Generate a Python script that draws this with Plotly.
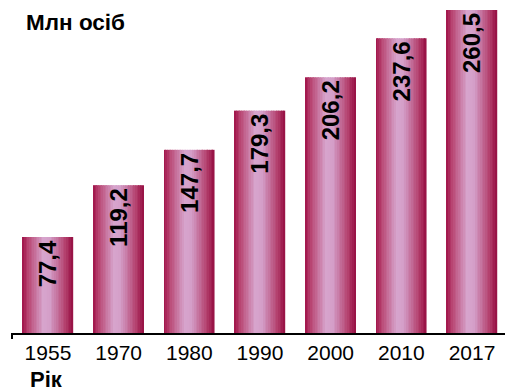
import numpy as np
import plotly.graph_objects as go

# Population, millions of people
years = ["1955", "1970", "1980", "1990", "2000", "2010", "2017"]
population = [77.4, 119.2, 147.7, 179.3, 206.2, 237.6, 260.5]
value_labels = ["77,4", "119,2", "147,7", "179,3", "206,2", "237,6", "260,5"]

BAR_WIDTH = 0.71
N_STRIPS = 30

# Horizontal shading across each bar: dark crimson edges, pale lilac highlight
stops = [0.0, 0.12, 0.42, 0.55, 0.85, 1.0]
stop_colors = [(160, 18, 72), (185, 70, 115), (215, 165, 205), (212, 158, 200), (180, 65, 110), (150, 14, 66)]


def shade(t):
    for i in range(len(stops) - 1):
        if stops[i] <= t <= stops[i + 1]:
            f = (t - stops[i]) / (stops[i + 1] - stops[i])
            c = [round(a + (b - a) * f) for a, b in zip(stop_colors[i], stop_colors[i + 1])]
            return "rgb({},{},{})".format(*c)
    return "rgb({},{},{})".format(*stop_colors[-1])


fig = go.Figure()
strip_w = BAR_WIDTH / N_STRIPS
for k in range(N_STRIPS):
    t = (k + 0.5) / N_STRIPS
    fig.add_trace(go.Bar(
        x=years, y=population,
        width=strip_w * 1.08, offset=-BAR_WIDTH / 2 + k * strip_w,
        marker=dict(color=shade(t), line=dict(width=0)),
        hoverinfo="skip", showlegend=False,
    ))

# Value labels written vertically near the top of each bar
fig.add_trace(go.Bar(
    x=years, y=population, width=BAR_WIDTH,
    marker=dict(color="rgba(0,0,0,0)", line=dict(width=0)),
    text=value_labels, textposition="inside", insidetextanchor="end",
    textangle=-90, constraintext="none",
    textfont=dict(family="Liberation Sans, Arial", size=24, color="black", weight="bold"),
    showlegend=False,
))

fig.update_layout(
    width=505, height=392,
    margin=dict(l=12, r=0, t=0, b=59),
    barmode="overlay",
    plot_bgcolor="white", paper_bgcolor="white",
    font=dict(family="Liberation Sans, Arial", color="black"),
    xaxis=dict(
        type="category", range=[-0.509, 6.467],
        showline=True, linecolor="black", linewidth=2,
        ticks="", tickfont=dict(size=21), showgrid=False, zeroline=False,
    ),
    yaxis=dict(range=[0, 268.5], visible=False),
    shapes=[dict(type="line", xref="paper", yref="paper", x0=0, x1=0, y0=0, y1=-0.018,
                 line=dict(color="black", width=2))],
    annotations=[
        dict(text="<b>Млн осіб</b>", xref="paper", yref="paper", x=0.0243, y=1.0,
             xanchor="left", yanchor="middle", yshift=-22, showarrow=False,
             font=dict(size=22.5, color="black")),
        dict(text="<b>Рік</b>", xref="paper", yref="paper", x=0.033, y=0,
             xanchor="left", yanchor="top", yshift=-32, showarrow=False,
             font=dict(size=22, color="black")),
    ],
)

fig.write_html("out.html")
